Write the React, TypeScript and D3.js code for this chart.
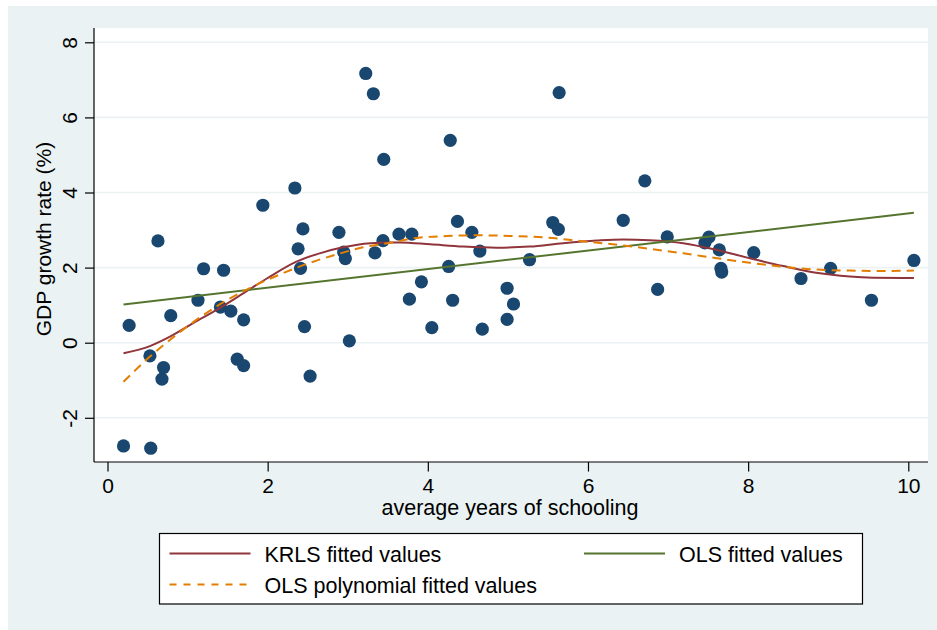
import { useEffect, useRef } from "react";
import * as d3 from "d3";

// scatter: average years of schooling vs GDP growth (%)
const schooling = [
  0.2, 0.54, 0.27, 0.53, 0.63, 0.7, 0.68, 0.79, 1.13, 1.2, 1.41, 1.45, 1.54,
  1.62, 1.7, 1.7, 1.94, 2.34, 2.38, 2.41, 2.44, 2.46, 2.53, 2.89, 2.95, 2.97,
  3.02, 3.225, 3.32, 3.34, 3.44, 3.45, 3.64, 3.77, 3.8, 3.92, 4.05, 4.26, 4.28,
  4.31, 4.37, 4.55, 4.65, 4.68, 4.99, 4.99, 5.07, 5.27, 5.56, 5.63, 5.64, 6.44,
  6.71, 6.87, 6.99, 7.46, 7.51, 7.64, 7.66, 7.67, 8.07, 8.66, 9.03, 9.54, 10.07,
];
const growth = [
  -2.75, -2.81, 0.46, -0.35, 2.71, -0.66, -0.97, 0.72, 1.13, 1.97, 0.95, 1.93,
  0.84, -0.44, 0.61, -0.61, 3.66, 4.12, 2.5, 1.98, 3.03, 0.43, -0.89, 2.94,
  2.41, 2.24, 0.05, 7.17, 6.63, 2.39, 2.72, 4.88, 2.89, 1.16, 2.89, 1.62, 0.4,
  2.03, 5.39, 1.13, 3.23, 2.94, 2.44, 0.36, 1.45, 0.62, 1.03, 2.21, 3.2, 3.02,
  6.66, 3.26, 4.31, 1.42, 2.82, 2.66, 2.81, 2.47, 1.98, 1.88, 2.4, 1.71, 1.98,
  1.13, 2.19,
];

// KRLS fitted values
const krlsX = [
  0.2, 0.53, 0.78, 1.07, 1.4, 1.7, 1.99, 2.36, 2.65, 2.94, 3.28, 3.53, 3.65,
  4.03, 4.44, 4.86, 5.27, 5.69, 6.11, 6.44, 6.77, 7.19, 7.61, 8.02, 8.44, 8.85,
  9.27, 9.56, 10.07,
];
const krlsY = [
  -0.28, -0.09, 0.16, 0.52, 0.92, 1.32, 1.71, 2.16, 2.38, 2.54, 2.65, 2.67,
  2.67, 2.62, 2.56, 2.53, 2.56, 2.65, 2.72, 2.75, 2.73, 2.65, 2.47, 2.25, 2.04,
  1.86, 1.76, 1.73, 1.72,
];

// OLS fitted values (straight line, end points)
const olsX = [0.2, 10.07];
const olsY = [1.02, 3.46];

// OLS polynomial fitted values
const polyX = [
  0.2, 0.53, 0.86, 1.2, 1.53, 1.86, 2.19, 2.53, 2.86, 3.19, 3.53, 3.82, 4.23,
  4.65, 5.07, 5.48, 5.9, 6.31, 6.77, 7.19, 7.61, 8.02, 8.44, 8.85, 9.27, 9.69,
  10.07,
];
const polyY = [
  -1.04, -0.37, 0.21, 0.74, 1.18, 1.54, 1.85, 2.13, 2.35, 2.54, 2.66, 2.78,
  2.84, 2.86, 2.84, 2.8, 2.71, 2.62, 2.5, 2.38, 2.25, 2.13, 2.02, 1.95, 1.92,
  1.91, 1.92,
];

const xTicks = [0, 2, 4, 6, 8, 10];
const yTicks = [-2, 0, 2, 4, 6, 8];

const FONT = "'Liberation Sans', Arial, Helvetica, sans-serif";
const BG = "#EAF2F3";
const NAVY = "#1A476F";
const MAROON = "#90353B";
const GREEN = "#55752F";
const ORANGE = "#E37E00";

export default function App() {
  const ref = useRef<SVGSVGElement>(null);

  useEffect(() => {
    if (!ref.current) return;
    const svg = d3.select(ref.current);
    svg.selectAll("*").remove();

    const width = 937;
    const height = 630;
    const left = 94;
    const right = 928;
    const top = 28;
    const bottom = 462;

    const x = d3.scaleLinear().domain([0, 10]).range([107.5, 908.3]);
    const y = d3.scaleLinear().domain([-2, 8]).range([417.8, 42.3]);

    // outer background
    svg.append("rect")
      .attr("x", 8).attr("y", 6)
      .attr("width", width - 8).attr("height", height - 6)
      .attr("fill", BG);

    // plot region
    svg.append("rect")
      .attr("x", left).attr("y", top)
      .attr("width", right - left).attr("height", bottom - top)
      .attr("fill", "white");

    // gridlines
    svg.append("g")
      .selectAll("line")
      .data(yTicks)
      .join("line")
      .attr("x1", left).attr("x2", right)
      .attr("y1", d => y(d)).attr("y2", d => y(d))
      .attr("stroke", BG)
      .attr("stroke-width", 1.6);

    // points
    const pts = schooling.map((s, i) => ({ s, g: growth[i] }));
    svg.append("g")
      .attr("fill", NAVY)
      .selectAll("circle")
      .data(pts)
      .join("circle")
      .attr("cx", d => x(d.s))
      .attr("cy", d => y(d.g))
      .attr("r", 6.6);

    const line = d3.line<[number, number]>()
      .x(d => x(d[0]))
      .y(d => y(d[1]))
      .curve(d3.curveMonotoneX);

    const zip = (xs: number[], ys: number[]) =>
      xs.map((v, i) => [v, ys[i]] as [number, number]);

    svg.append("path")
      .attr("d", line(zip(krlsX, krlsY)))
      .attr("fill", "none")
      .attr("stroke", MAROON)
      .attr("stroke-width", 2);

    svg.append("path")
      .attr("d", line(zip(olsX, olsY)))
      .attr("fill", "none")
      .attr("stroke", GREEN)
      .attr("stroke-width", 2);

    svg.append("path")
      .attr("d", line(zip(polyX, polyY)))
      .attr("fill", "none")
      .attr("stroke", ORANGE)
      .attr("stroke-width", 2)
      .attr("stroke-dasharray", "9,6");

    // y axis (plain hyphen for negatives, like the original)
    const yAxis = svg.append("g")
      .attr("transform", `translate(${left},0)`)
      .call(d3.axisLeft(y).tickValues(yTicks).tickFormat(d => String(d)).tickSize(9).tickSizeOuter(0))
      .call(g => g.select(".domain").remove());
    yAxis.selectAll("line").attr("stroke", "black").attr("stroke-width", 1.2);
    yAxis.selectAll("text")
      .attr("transform", "rotate(-90)")
      .attr("x", 0)
      .attr("y", -17)
      .attr("dy", null)
      .attr("text-anchor", "middle")
      .attr("fill", "black")
      .style("font-family", FONT)
      .style("font-size", "21px");

    // x axis
    const xAxis = svg.append("g")
      .attr("transform", `translate(0,${bottom})`)
      .call(d3.axisBottom(x).tickValues(xTicks).tickFormat(d => String(d)).tickSize(9.5).tickSizeOuter(0))
      .call(g => g.select(".domain").remove());
    xAxis.selectAll("line").attr("stroke", "black").attr("stroke-width", 1.2);
    xAxis.selectAll("text")
      .attr("y", 31)
      .attr("dy", null)
      .attr("fill", "black")
      .style("font-family", FONT)
      .style("font-size", "21px");

    // axis lines
    svg.append("line")
      .attr("x1", left).attr("x2", left)
      .attr("y1", top).attr("y2", bottom)
      .attr("stroke", "black").attr("stroke-width", 1.2);
    svg.append("line")
      .attr("x1", left).attr("x2", right)
      .attr("y1", bottom).attr("y2", bottom)
      .attr("stroke", "black").attr("stroke-width", 1.2);

    // titles
    svg.append("text")
      .attr("x", 510).attr("y", 515)
      .attr("text-anchor", "middle")
      .style("font-family", FONT)
      .style("font-size", "21.5px")
      .text("average years of schooling");

    svg.append("text")
      .attr("transform", "translate(51,239) rotate(-90)")
      .attr("text-anchor", "middle")
      .style("font-family", FONT)
      .style("font-size", "21px")
      .text("GDP growth rate (%)");

    // legend
    const lg = svg.append("g");
    lg.append("rect")
      .attr("x", 159.5).attr("y", 533.5)
      .attr("width", 703).attr("height", 70.5)
      .attr("fill", "white")
      .attr("stroke", "black")
      .attr("stroke-width", 1.2);

    const items = [
      { label: "KRLS fitted values", color: MAROON, dash: null, lx: 169.5, ly: 553.5 },
      { label: "OLS fitted values", color: GREEN, dash: null, lx: 584, ly: 553.5 },
      { label: "OLS polynomial fitted values", color: ORANGE, dash: "7,7", lx: 169.5, ly: 584.5 },
    ];
    items.forEach(it => {
      lg.append("line")
        .attr("x1", it.lx).attr("x2", it.lx + 81)
        .attr("y1", it.ly).attr("y2", it.ly)
        .attr("stroke", it.color)
        .attr("stroke-width", 2)
        .attr("stroke-dasharray", it.dash);
      lg.append("text")
        .attr("x", it.lx + 95).attr("y", it.ly + 8)
        .style("font-family", FONT)
        .style("font-size", "21.5px")
        .text(it.label);
    });
  }, []);

  return (
    <svg
      ref={ref}
      width={937}
      height={630}
      style={{ position: "absolute", left: 0, top: 0, background: "white" }}
    />
  );
}
